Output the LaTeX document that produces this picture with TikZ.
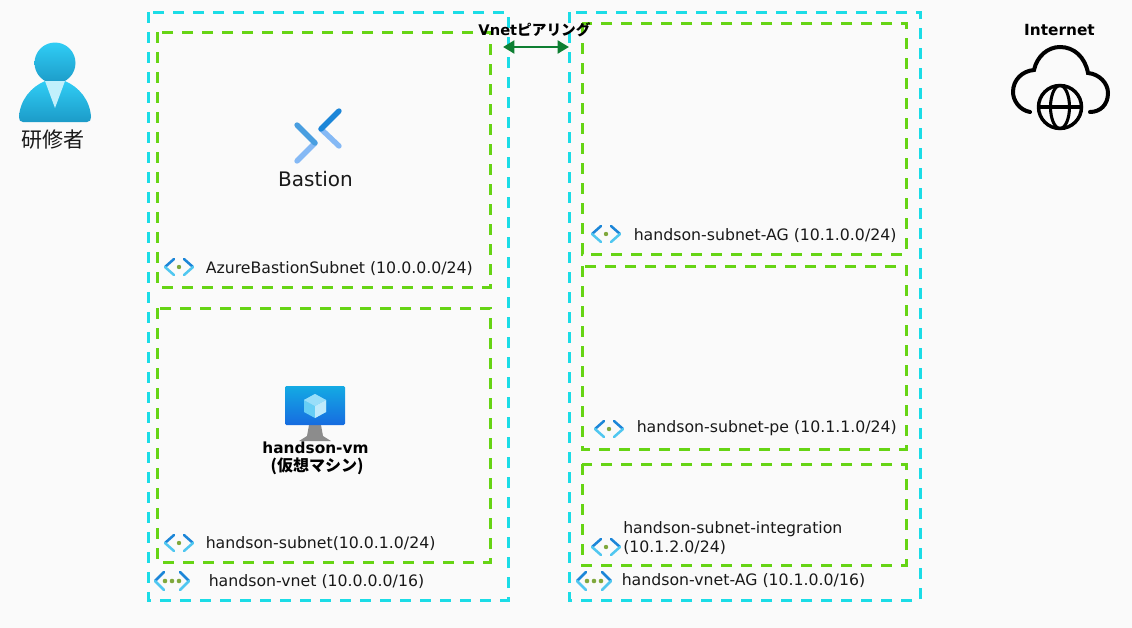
\documentclass[tikz,border=0pt]{standalone}
\usepackage{fontspec}
\setmainfont{DejaVu Sans}
\newfontfamily\cjk{Noto Sans CJK JP}
\usetikzlibrary{arrows.meta}
\definecolor{bgc}{HTML}{FAFAFA}
\definecolor{vnetc}{HTML}{1BDCE6}
\definecolor{subc}{HTML}{66D414}
\definecolor{peerc}{HTML}{0E7F32}
\definecolor{iconl}{HTML}{50C7F0}
\definecolor{icond}{HTML}{1C86D8}
\definecolor{dotc}{HTML}{7FA83C}
\definecolor{personT}{HTML}{30CDF5}
\definecolor{personB}{HTML}{1C9BC8}
\definecolor{bastL}{HTML}{85B9F5}
\tikzset{
 x=0.75pt,y=-0.75pt,
 vnetbox/.style={draw=vnetc,line width=2.25pt,dash pattern=on 8.5pt off 6.5pt},
 subnetbox/.style={draw=subc,line width=2.25pt,dash pattern=on 8.5pt off 6.5pt},
 lbl/.style={inner sep=0pt,anchor=west,font=\fontsize{11.8}{14.5}\selectfont,text=black!90},
 boldlbl/.style={inner sep=0pt,font=\fontsize{11.5}{13.5}\selectfont\bfseries,text=black,align=center},
}
\newcommand{\subicon}[2]{%
 \begin{scope}[shift={(#1,#2)},line width=1.9pt,line cap=round,line join=round]
 \draw[icond] (-5,-8) -- (-14,0);
 \draw[iconl] (-14,0) -- (-5,8);
 \draw[icond] (5,-8) -- (14,0);
 \draw[iconl] (14,0) -- (5,8);
 \fill[dotc] (0,0) circle (2.2);
 \end{scope}}
\newcommand{\vneticon}[2]{%
 \begin{scope}[shift={(#1,#2)},line width=2.1pt,line cap=round,line join=round]
 \draw[icond] (-8,-9) -- (-17,0);
 \draw[iconl] (-17,0) -- (-8,9);
 \draw[icond] (8,-9) -- (17,0);
 \draw[iconl] (17,0) -- (8,9);
 \fill[dotc] (-7,0) circle (2.3) (0,0) circle (2.3) (7,0) circle (2.3);
 \end{scope}}
\begin{document}
\begin{tikzpicture}
\useasboundingbox (0,0) rectangle (1132,628);
\fill[bgc] (0,0) rectangle (1132,628);

% boxes
\draw[vnetbox] (148,12) rectangle (508,600);
\draw[vnetbox] (569,12) rectangle (920,600);
\draw[subnetbox] (157,32) rectangle (490,287);
\draw[subnetbox] (157,308) rectangle (490,562);
\draw[subnetbox] (582,23) rectangle (906,254);
\draw[subnetbox] (582,266) rectangle (906,449);
\draw[subnetbox] (582,464) rectangle (906,565);

% person
\shade[top color=personT,bottom color=personB] (55,63) circle (20.5);
\shade[top color=personT,bottom color=personB]
  (23,122) .. controls (20,122) and (19,120) .. (19,117)
  .. controls (20,100) and (31,87) .. (45,81)
  -- (65,81)
  .. controls (79,87) and (90,100) .. (91,117)
  .. controls (91,120) and (90,122) .. (87,122) -- cycle;
\fill[white!70!personT] (45,81) -- (65,81) -- (55,108) -- cycle;
\node[inner sep=0pt,font=\cjk\fontsize{15.8}{18}\selectfont,text=black!90] (trainee) at (53,140) {研修者};

% Bastion icon
\begin{scope}[line width=4pt,line cap=round]
\draw[bastL] (297,161) -- (315,143);
\draw[icond!80!white] (297,125) -- (315,143);
\draw[bastL] (321,129) -- (339,146);
\draw[icond] (339,111) -- (321,129);
\end{scope}
\node[inner sep=0pt,font=\fontsize{15}{19}\selectfont,text=black!90] (bastion) at (315.5,179) {Bastion};

% VM icon
\fill[black!45] (309,425) -- (321,425) -- (323,436) -- (331,441) -- (299,441) -- (307,436) -- cycle;
\shade[top color=icond!70!cyan,bottom color=icond!80!blue,rounded corners=1] (285,386) rectangle (345,425);
\fill[cyan!60!white] (315,394) -- (326,400) -- (326,412) -- (315,418) -- (304,412) -- (304,400) -- cycle;
\fill[cyan!25!white] (315,406) -- (326,400) -- (326,412) -- (315,418) -- cycle;
\fill[cyan!40!white] (315,394) -- (326,400) -- (315,406) -- (304,400) -- cycle;
\node[boldlbl] (vm) at (315.5,447.5) {handson-vm};
\node[inner sep=0pt,font=\cjk\fontsize{12}{13.5}\selectfont\bfseries,text=black] (vmj) at (317,466) {(仮想マシン)};

% Internet icon
\begin{scope}[line width=3pt,line cap=round]
\draw[black] (1030,112) .. controls (1019,110) and (1013,100) .. (1013,92)
  .. controls (1013,80) and (1022,71) .. (1034,70)
  .. controls (1037,56) and (1048,47) .. (1060,47)
  .. controls (1074,47) and (1085,57) .. (1088,73)
  .. controls (1099,74) and (1108,83) .. (1108,93)
  .. controls (1108,105) and (1100,112) .. (1090,112);
\draw[black,line width=2.6pt] (1060,107) circle (21.5);
\draw[black,line width=2.3pt] (1060,107) ellipse (9.5 and 21.5);
\draw[black,line width=2.3pt] (1039,107) -- (1081,107);
\end{scope}
\node[boldlbl] (internet) at (1059.5,30.5) {Internet};

% peering
\coordinate (pL) at (503,47);
\coordinate (pR) at (569,47);
\draw[peerc,line width=2.2pt,{Triangle[length=8.5pt,width=9.5pt]}-{Triangle[length=8.5pt,width=9.5pt]}] (pL) -- (pR);
\node[inner sep=0pt,text=black,font=\fontsize{11}{13}\selectfont\bfseries] (peer) at (534.5,29.5) {Vnet{\cjk ピアリング}};

% labels
\subicon{179}{267}
\node[lbl] (l1) at (205.5,268.5) {AzureBastionSubnet (10.0.0.0/24)};
\subicon{179}{543}
\node[lbl] (l2) at (205.5,543.5) {handson-subnet(10.0.1.0/24)};
\vneticon{172}{581}
\node[lbl] (l3) at (208.5,581.5) {handson-vnet (10.0.0.0/16)};
\subicon{606}{234}
\node[lbl] (l4) at (633.5,235.5) {handson-subnet-AG (10.1.0.0/24)};
\subicon{609}{429}
\node[lbl] (l5) at (636.5,428.5) {handson-subnet-pe (10.1.1.0/24)};
\subicon{606}{547}
\node[lbl,align=left,anchor=north west] (l6) at (623,521) {handson-subnet-integration\\(10.1.2.0/24)};
\vneticon{594}{581}
\node[lbl] (l7) at (621.5,580.5) {handson-vnet-AG (10.1.0.0/16)};
\end{tikzpicture}
\end{document}
